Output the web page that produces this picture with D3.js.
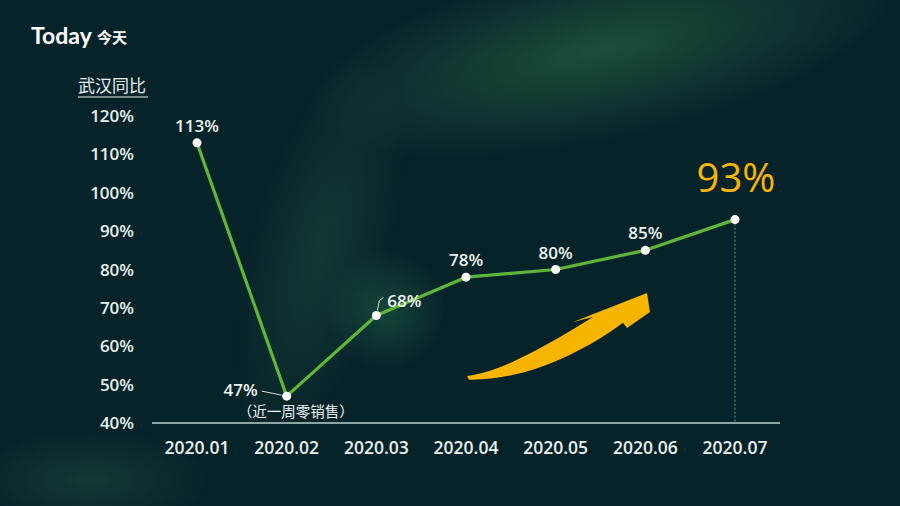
<!DOCTYPE html>
<html lang="zh">
<head>
<meta charset="utf-8">
<title>武汉同比</title>
<script src="https://cdnjs.cloudflare.com/ajax/libs/d3/7.8.5/d3.min.js"></script>
<style>
  html, body { margin: 0; padding: 0; background: #08262a; }
  svg { display: block; font-family: "Open Sans", "Noto Sans CJK SC", sans-serif; }
</style>
</head>
<body>
<svg id="chart"></svg>
<script>
// data
var months = ["2020.01", "2020.02", "2020.03", "2020.04", "2020.05", "2020.06", "2020.07"];
var values = [113, 47, 68, 78, 80, 85, 93];
var yTicks = [40, 50, 60, 70, 80, 90, 100, 110, 120];

var width = 900, height = 506;
var svg = d3.select("#chart").attr("width", width).attr("height", height);

// background with aurora-like glows
var defs = svg.append("defs");
function glow(id, color, op) {
  var g = defs.append("radialGradient").attr("id", id);
  g.append("stop").attr("offset", "0%").attr("stop-color", color).attr("stop-opacity", op);
  g.append("stop").attr("offset", "100%").attr("stop-color", color).attr("stop-opacity", 0);
}
glow("g1", "#2f7a4a", 0.5);
glow("g2", "#2a6e45", 0.3);
glow("g3", "#24704a", 0.45);

svg.append("rect").attr("width", width).attr("height", height).attr("fill", "#07232a");
svg.append("ellipse").attr("cx", 600).attr("cy", 50).attr("rx", 300).attr("ry", 90)
  .attr("fill", "url(#g1)").attr("transform", "rotate(-12 600 50)");
svg.append("ellipse").attr("cx", 320).attr("cy", 250).attr("rx", 70).attr("ry", 200)
  .attr("fill", "url(#g2)").attr("transform", "rotate(15 320 250)");
svg.append("ellipse").attr("cx", 385).attr("cy", 310).attr("rx", 60).attr("ry", 60)
  .attr("fill", "url(#g3)");
svg.append("ellipse").attr("cx", 90).attr("cy", 480).attr("rx", 120).attr("ry", 50)
  .attr("fill", "url(#g2)");

// logo
svg.append("text").attr("x", 31).attr("y", 44)
  .attr("fill", "#fff").style("font-size", "23px").style("font-weight", 700)
  .style("font-family", "Lato, 'Open Sans', sans-serif").text("Today");
svg.append("text").attr("x", 97).attr("y", 43)
  .attr("fill", "#fff").style("font-size", "15px").style("font-weight", 700)
  .style("font-family", "'Noto Sans CJK SC', sans-serif").text("今天");

var x = d3.scalePoint().domain(months).range([197, 735]);
var y = d3.scaleLinear().domain([40, 120]).range([423, 116]);

// y axis labels
svg.append("g").selectAll("text").data(yTicks).enter().append("text")
  .attr("x", 134).attr("y", d => y(d)).attr("dy", "0.36em")
  .attr("text-anchor", "end").attr("fill", "#e8f0ee")
  .style("font-size", "17px").style("font-weight", 600)
  .text(d => d + "%");

// y title
svg.append("text").attr("x", 78).attr("y", 92).attr("fill", "#e8f0ee")
  .style("font-size", "17px").style("font-family", "'Noto Sans CJK SC', sans-serif")
  .text("武汉同比");
svg.append("line").attr("x1", 78).attr("x2", 148).attr("y1", 97).attr("y2", 97)
  .attr("stroke", "#e8f0ee").attr("stroke-width", 1.2);

// x axis baseline
svg.append("line").attr("x1", 152).attr("x2", 780).attr("y1", y(40)).attr("y2", y(40))
  .attr("stroke", "#b9d0cf").attr("stroke-width", 1.5);

svg.append("g").selectAll("text").data(months).enter().append("text")
  .attr("x", d => x(d)).attr("y", 454).attr("text-anchor", "middle")
  .attr("fill", "#e8f0ee").style("font-size", "17.5px").style("font-weight", 600)
  .text(d => d);

// dashed drop line at last point
var last = months.length - 1;
svg.append("line").attr("x1", x(months[last])).attr("x2", x(months[last]))
  .attr("y1", y(values[last])).attr("y2", y(40))
  .attr("stroke", "#6aa36a").attr("stroke-width", 1).attr("stroke-dasharray", "2,2");

// arrow decoration, anchored below the 2020.04 point
var ax0 = x(months[3]), ay0 = y(50);
svg.append("path")
  .attr("transform", "translate(" + ax0 + "," + ay0 + ")")
  .attr("d", "M1,-8.6 C34,-12.6 76,-36 127,-67.6 L107,-62.6 L181,-91.6 L184,-72.6 L161,-56.6 L157,-62 C114,-30 56,-4 3,-5 Z")
  .attr("fill", "#f7b500");

// line
var line = d3.line().x((d, i) => x(months[i])).y(d => y(d));
svg.append("path").datum(values).attr("d", line)
  .attr("fill", "none").attr("stroke", "#5fb53a").attr("stroke-width", 3.2)
  .attr("stroke-linejoin", "round");

svg.append("g").selectAll("circle").data(values).enter().append("circle")
  .attr("cx", (d, i) => x(months[i])).attr("cy", d => y(d)).attr("r", 4.5)
  .attr("fill", "#fff");

// value labels
var labelStyle = function(sel) {
  return sel.attr("fill", "#eef4f2").style("font-size", "17px").style("font-weight", 600);
};
// 113, 78, 80, 85 above the point
[0, 3, 4, 5].forEach(function(i) {
  labelStyle(svg.append("text")).attr("x", x(months[i])).attr("y", y(values[i]) - 11)
    .attr("text-anchor", "middle").text(values[i] + "%");
});
// 68% with leader
var p2x = x(months[2]), p2y = y(values[2]);
svg.append("path").attr("d", "M" + (p2x + 1) + "," + (p2y - 5) + " L" + (p2x + 3) + "," + (p2y - 15) + " L" + (p2x + 7) + "," + (p2y - 18))
  .attr("fill", "none").attr("stroke", "#cfdcda").attr("stroke-width", 1);
labelStyle(svg.append("text")).attr("x", p2x + 11).attr("y", p2y - 15).attr("dy", "0.36em")
  .text(values[2] + "%");
// 47% with leader and note
var p1x = x(months[1]), p1y = y(values[1]);
svg.append("line").attr("x1", p1x - 25).attr("x2", p1x - 5).attr("y1", p1y - 5).attr("y2", p1y - 1)
  .attr("stroke", "#cfdcda").attr("stroke-width", 1);
labelStyle(svg.append("text")).attr("x", p1x - 29).attr("y", p1y - 6).attr("dy", "0.36em")
  .attr("text-anchor", "end").text(values[1] + "%");
svg.append("text").attr("x", p1x + 9).attr("y", p1y + 21).attr("text-anchor", "middle")
  .attr("fill", "#eef4f2").style("font-size", "14.5px")
  .style("font-family", "'Noto Sans CJK SC', sans-serif").text("（近一周零销售）");
// 93% highlight
svg.append("text").attr("x", x(months[last]) + 1).attr("y", y(values[last]) - 28)
  .attr("text-anchor", "middle").attr("fill", "#f7b500")
  .style("font-size", "40px").text(values[last] + "%");
</script>
</body>
</html>
